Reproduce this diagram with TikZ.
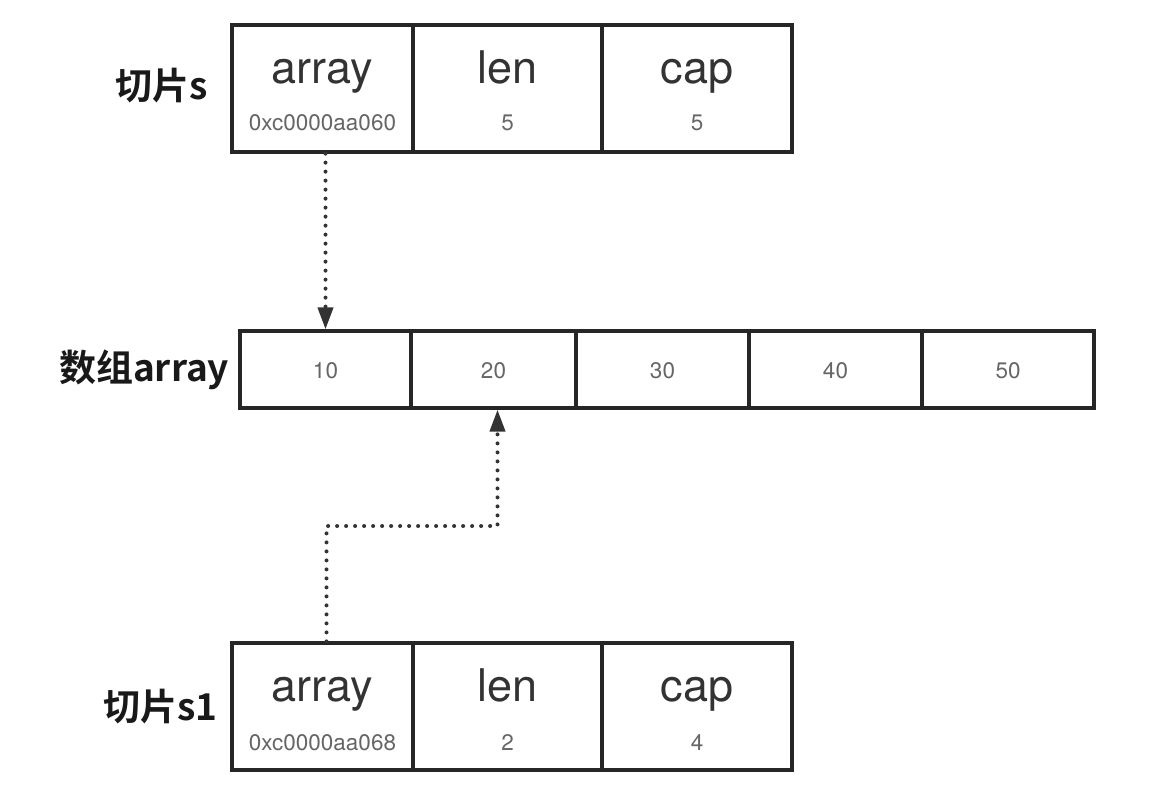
\documentclass[tikz,border=0pt]{standalone}
\usepackage{fontspec}
\setmainfont{TeX Gyre Heros}
\newfontfamily\cjk{Noto Sans CJK SC}[BoldFont={Noto Sans CJK SC Bold}]
\usetikzlibrary{arrows.meta,positioning}
\definecolor{frame}{HTML}{262626}
\definecolor{ink}{HTML}{333333}
\definecolor{dim}{HTML}{666666}
\newcommand{\fbig}{\fontsize{45}{48}\selectfont}
\newcommand{\fsml}{\fontsize{22.5}{24}\selectfont}
\newcommand{\flab}{\cjk\bfseries\fontsize{37}{40}\selectfont}

\begin{document}
\begin{tikzpicture}[x=1pt,y=-1pt,
  cell/.style={draw=frame,line width=3.2pt,inner sep=0pt,minimum height=127pt},
  slot/.style={draw=frame,line width=3.2pt,inner sep=0pt,minimum height=77pt},
  big/.style={anchor=base,inner sep=0pt,text=ink,font=\fbig},
  sml/.style={anchor=base,inner sep=0pt,text=dim,font=\fsml},
  lab/.style={inner sep=0pt,text=black!90,font=\flab},
  ptr/.style={draw=ink,line width=4pt,line cap=round,dash pattern=on 0pt off 9pt,
              -{Triangle[length=22pt,width=15pt]}}]
  \useasboundingbox (0,0) rectangle (1149,804);
  % slice s
  \node[cell,minimum width=181pt] (sArr) at (322.5,88.5) {};
  \node[cell,minimum width=189pt] (sLen) at (507.5,88.5) {};
  \node[cell,minimum width=190pt] (sCap) at (697.0,88.5) {};
  \node[big] (sArrT) at (322.5,83) {array};
  \node[big] (sLenT) at (507.5,83) {len};
  \node[big] (sCapT) at (697.0,83) {cap};
  \node[sml] (sArrV) at (322.5,130) {0xc0000aa060};
  \node[sml] (sLenV) at (507.5,130) {5};
  \node[sml] (sCapV) at (697.0,130) {5};
  \node[lab,left=22pt of sArr,yshift=3pt] (sLab) {切片s};
  % backing array
  \node[slot,minimum width=171pt] (arr1) at ( 325.5,369.5) {};
  \node[slot,minimum width=165pt] (arr2) at ( 493.5,369.5) {};
  \node[slot,minimum width=173pt] (arr3) at ( 662.5,369.5) {};
  \node[slot,minimum width=173pt] (arr4) at ( 835.5,369.5) {};
  \node[slot,minimum width=172pt] (arr5) at (1008.0,369.5) {};
  \node[sml] (arr1V) at ( 325.5,378) {10};
  \node[sml] (arr2V) at ( 493.5,378) {20};
  \node[sml] (arr3V) at ( 662.5,378) {30};
  \node[sml] (arr4V) at ( 835.5,378) {40};
  \node[sml] (arr5V) at (1008.0,378) {50};
  \node[lab,left=9pt of arr1] (arrLab) {数组array};
  % slice s1
  \node[cell,minimum width=181pt] (s1Arr) at (322.5,706.5) {};
  \node[cell,minimum width=189pt] (s1Len) at (507.5,706.5) {};
  \node[cell,minimum width=190pt] (s1Cap) at (697.0,706.5) {};
  \node[big] (s1ArrT) at (322.5,701) {array};
  \node[big] (s1LenT) at (507.5,701) {len};
  \node[big] (s1CapT) at (697.0,701) {cap};
  \node[sml] (s1ArrV) at (322.5,750) {0xc0000aa068};
  \node[sml] (s1LenV) at (507.5,750) {2};
  \node[sml] (s1CapV) at (697.0,750) {4};
  \node[lab,left=13pt of s1Arr] (s1Lab) {切片s1};
  % pointers
  \coordinate (turn) at (0,526);
  \draw[ptr] (arr1.north |- sArr.south) -- (arr1.north);
  \draw[ptr] ([xshift=4pt]s1Arr.north) -- ([xshift=4pt]s1Arr.north |- turn) -| ([xshift=4pt]arr2.south);
\end{tikzpicture}
\end{document}
